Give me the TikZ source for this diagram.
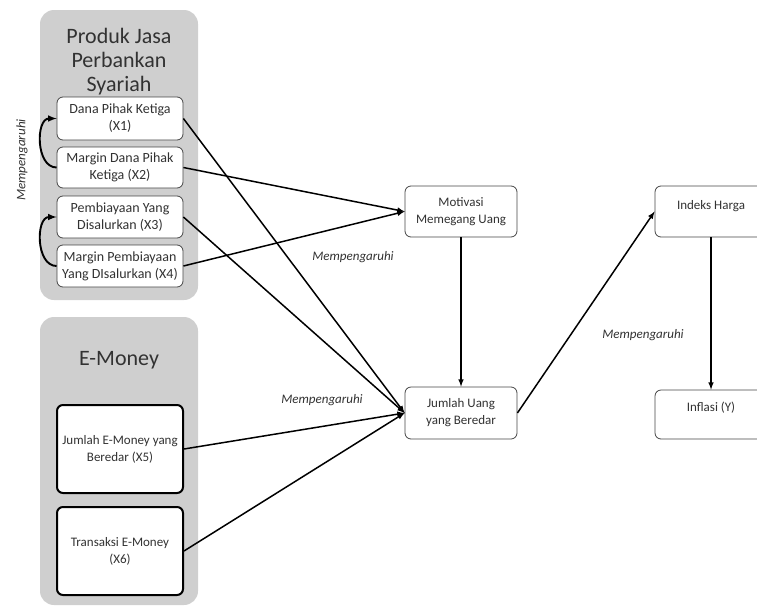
\documentclass[tikz,border=0pt]{standalone}
\usepackage{fontspec}
\setmainfont{Carlito}
\usetikzlibrary{arrows}
\definecolor{abu}{RGB}{207,207,207}
\definecolor{teks}{RGB}{50,50,50}
\definecolor{garis}{RGB}{70,70,70}

\begin{document}
\begin{tikzpicture}[x=1pt,y=-1pt,
        kotak/.style={draw=garis,fill=white,line width=.8pt,rounded corners=6pt,align=center,inner sep=1pt,text=teks},
        grup/.style={fill=abu,rounded corners=14pt},
        judul/.style={align=center,text=teks,font=\fontsize{22}{24}\selectfont},
        ket/.style={text=teks,font=\fontsize{13}{15}\itshape}]%
        \useasboundingbox (0,0) rectangle (757,608);%%
        \clip (0,0) rectangle (757,608);%%
        \fill[grup] (40,10) rectangle (198,300);%%
        \fill[grup] (40,317) rectangle (198,605);%%
        \node[judul] (j1) at (119,62)  {Produk Jasa\\Perbankan\\Syariah}; %%
        \node[judul] (j2) at (119,360)  {E-Money}; %%
        \begin{scope}[minimum width=126pt]
        \tikzstyle{every node}=[kotak,font=\fontsize{14}{17}\selectfont] %%
        \node[minimum height=43pt] (x1) at (120,118.5)  {Dana Pihak Ketiga\\(X1)}; %%
        \node[minimum height=41pt] (x2) at (120,167.5)  {Margin Dana Pihak\\Ketiga (X2)}; %%
        \node[minimum height=42pt] (x3) at (120,217)  {Pembiayaan Yang\\Disalurkan (X3)}; %%
        \node[minimum height=42pt] (x4) at (120,266)  {Margin Pembiayaan\\Yang DIsalurkan (X4)}; %%
        \tikzstyle{every node}=[kotak,font=\fontsize{13}{17}\selectfont,draw=black,line width=2pt] %%
        \node[minimum height=88pt] (x5) at (120,449)  {Jumlah E-Money yang\\Beredar (X5)}; %%
        \node[minimum height=88pt] (x6) at (120,551)  {Transaksi E-Money\\(X6)}; %%
        \end{scope}
        \begin{scope}[minimum width=112pt]
        \tikzstyle{every node}=[kotak,font=\fontsize{13}{17}\selectfont] %%
        \node[minimum height=51pt] (mot) at (461,211.5)  {Motivasi\\Memegang Uang}; %%
        \node[minimum height=52pt] (jum) at (461,413)  {Jumlah Uang\\yang Beredar}; %%
        \node[minimum height=51pt,text depth=14pt] (ih) at (711,211.5)  {Indeks Harga}; %%
        \node[minimum height=49pt,text depth=15pt] (inf) at (711,414.5)  {Inflasi (Y)}; %%
        \end{scope}
        \node[ket,rotate=90] (k1) at (22,160)  {Mempengaruhi}; %%
        \node[ket] (k2) at (353,257)  {Mempengaruhi}; %%
        \node[ket] (k3) at (322,400)  {Mempengaruhi}; %%
        \node[ket] (k4) at (643,335)  {Mempengaruhi}; %%
        \begin{scope}[line width=1.5pt]
        \draw[->,-latex,line width=1.9pt] (x2.west) to[out=180,in=180,looseness=1.1] (x1.west); %%
        \draw[->,-latex,line width=1.9pt] (x4.west) to[out=180,in=180,looseness=1.1] (x3.west); %%
        \draw[->,-latex] (x1.east)--(jum.west); %%
        \draw[->,-latex] (x3.east)--(jum.west); %%
        \draw[->,-latex] (x5.east)--(jum.west); %%
        \draw[->,-latex] (x6.east)--(jum.west); %%
        \draw[->,-latex] (x2.east)--(mot.west); %%
        \draw[->,-latex] (x4.east)--(mot.west); %%
        \draw[->,-latex] (mot)--(jum); %%
        \draw[->,-latex] (jum.east)--(ih.west); %%
        \draw[->,-latex] (ih)--(inf); %%
        \end{scope}
        \end{tikzpicture}
\end{document}
